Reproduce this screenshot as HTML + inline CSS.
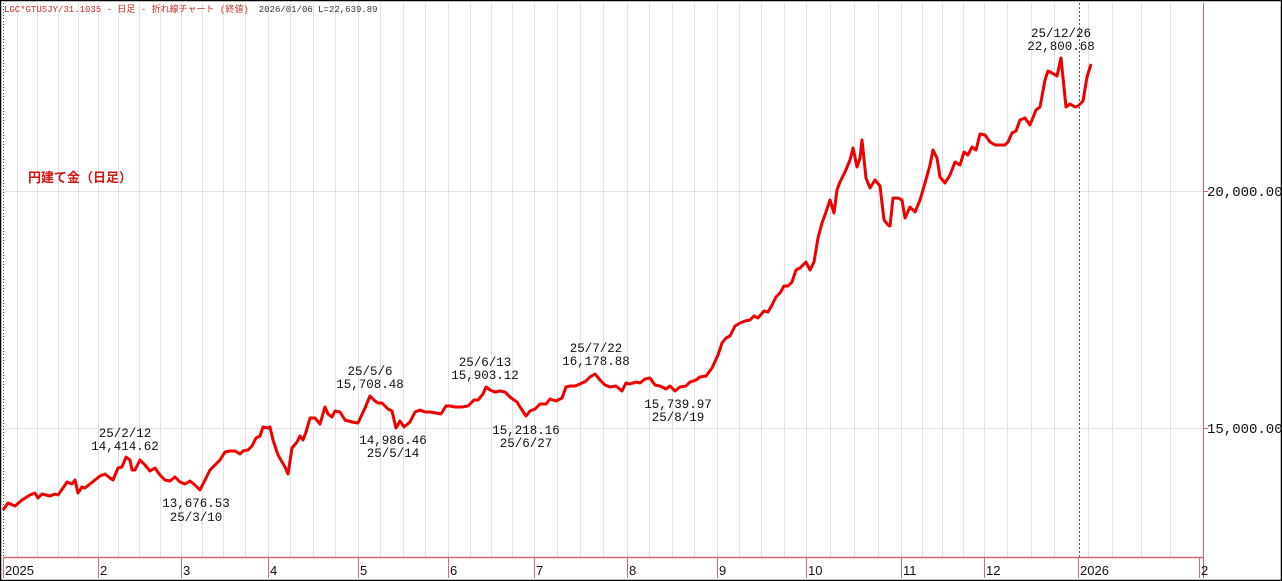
<!DOCTYPE html>
<html><head><meta charset="utf-8"><style>
html,body{margin:0;padding:0;background:#fff;}
svg{display:block;}
.t{font-family:"Liberation Mono","DejaVu Sans Mono",monospace;font-size:12.5px;fill:#111;}
.ax{font-family:"Liberation Sans",sans-serif;font-size:13px;fill:#111;}
</style></head><body>
<svg width="1282" height="581" viewBox="0 0 1282 581" xmlns="http://www.w3.org/2000/svg">
<rect x="0" y="0" width="1282" height="581" fill="#fff"/>
<g stroke="#e2e2e2" stroke-width="1">
<line x1="17.5" y1="3" x2="17.5" y2="557"/><line x1="37.5" y1="3" x2="37.5" y2="557"/><line x1="58.5" y1="3" x2="58.5" y2="557"/><line x1="78.5" y1="3" x2="78.5" y2="557"/><line x1="98.5" y1="3" x2="98.5" y2="557"/><line x1="118.5" y1="3" x2="118.5" y2="557"/><line x1="139.5" y1="3" x2="139.5" y2="557"/><line x1="160.5" y1="3" x2="160.5" y2="557"/><line x1="181.5" y1="3" x2="181.5" y2="557"/><line x1="202.5" y1="3" x2="202.5" y2="557"/><line x1="223.5" y1="3" x2="223.5" y2="557"/><line x1="245.5" y1="3" x2="245.5" y2="557"/><line x1="268.5" y1="3" x2="268.5" y2="557"/><line x1="290.5" y1="3" x2="290.5" y2="557"/><line x1="313.5" y1="3" x2="313.5" y2="557"/><line x1="335.5" y1="3" x2="335.5" y2="557"/><line x1="358.5" y1="3" x2="358.5" y2="557"/><line x1="380.5" y1="3" x2="380.5" y2="557"/><line x1="403.5" y1="3" x2="403.5" y2="557"/><line x1="425.5" y1="3" x2="425.5" y2="557"/><line x1="448.5" y1="3" x2="448.5" y2="557"/><line x1="470.5" y1="3" x2="470.5" y2="557"/><line x1="491.5" y1="3" x2="491.5" y2="557"/><line x1="512.5" y1="3" x2="512.5" y2="557"/><line x1="534.5" y1="3" x2="534.5" y2="557"/><line x1="557.5" y1="3" x2="557.5" y2="557"/><line x1="580.5" y1="3" x2="580.5" y2="557"/><line x1="603.5" y1="3" x2="603.5" y2="557"/><line x1="627.5" y1="3" x2="627.5" y2="557"/><line x1="649.5" y1="3" x2="649.5" y2="557"/><line x1="672.5" y1="3" x2="672.5" y2="557"/><line x1="694.5" y1="3" x2="694.5" y2="557"/><line x1="717.5" y1="3" x2="717.5" y2="557"/><line x1="739.5" y1="3" x2="739.5" y2="557"/><line x1="761.5" y1="3" x2="761.5" y2="557"/><line x1="784.5" y1="3" x2="784.5" y2="557"/><line x1="806.5" y1="3" x2="806.5" y2="557"/><line x1="830.5" y1="3" x2="830.5" y2="557"/><line x1="854.5" y1="3" x2="854.5" y2="557"/><line x1="878.5" y1="3" x2="878.5" y2="557"/><line x1="901.5" y1="3" x2="901.5" y2="557"/><line x1="922.5" y1="3" x2="922.5" y2="557"/><line x1="942.5" y1="3" x2="942.5" y2="557"/><line x1="963.5" y1="3" x2="963.5" y2="557"/><line x1="984.5" y1="3" x2="984.5" y2="557"/><line x1="1007.5" y1="3" x2="1007.5" y2="557"/><line x1="1031.5" y1="3" x2="1031.5" y2="557"/><line x1="1054.5" y1="3" x2="1054.5" y2="557"/><line x1="1088.5" y1="3" x2="1088.5" y2="557"/><line x1="1112.5" y1="3" x2="1112.5" y2="557"/><line x1="1141.5" y1="3" x2="1141.5" y2="557"/><line x1="1170.5" y1="3" x2="1170.5" y2="557"/>
<line x1="3" y1="191.5" x2="1203" y2="191.5"/><line x1="3" y1="428.5" x2="1203" y2="428.5"/>
</g>
<line x1="1079.5" y1="3" x2="1079.5" y2="557" stroke="#556" stroke-width="1" stroke-dasharray="2,2"/>
<line x1="3.5" y1="3" x2="3.5" y2="578" stroke="#444" stroke-width="1" stroke-dasharray="1,2"/>
<line x1="1203.5" y1="3" x2="1203.5" y2="578" stroke="#c8646e" stroke-width="1"/>
<line x1="3" y1="557.5" x2="1203" y2="557.5" stroke="#d46a72" stroke-width="1.5"/>
<g stroke="#d46a72" stroke-width="1">
<line x1="3.5" y1="557" x2="3.5" y2="578"/><line x1="98.5" y1="557" x2="98.5" y2="578"/><line x1="181.5" y1="557" x2="181.5" y2="578"/><line x1="268.5" y1="557" x2="268.5" y2="578"/><line x1="358.5" y1="557" x2="358.5" y2="578"/><line x1="448.5" y1="557" x2="448.5" y2="578"/><line x1="534.5" y1="557" x2="534.5" y2="578"/><line x1="627.5" y1="557" x2="627.5" y2="578"/><line x1="717.5" y1="557" x2="717.5" y2="578"/><line x1="806.5" y1="557" x2="806.5" y2="578"/><line x1="901.5" y1="557" x2="901.5" y2="578"/><line x1="984.5" y1="557" x2="984.5" y2="578"/><line x1="1078.5" y1="557" x2="1078.5" y2="578"/><line x1="1199.5" y1="557" x2="1199.5" y2="578"/>
<line x1="1203" y1="191.5" x2="1208" y2="191.5"/><line x1="1203" y1="428.5" x2="1208" y2="428.5"/>
</g>
<g class="ax">
<text x="5" y="575">2025</text><text x="100" y="575">2</text><text x="183" y="575">3</text><text x="270" y="575">4</text><text x="360" y="575">5</text><text x="450" y="575">6</text><text x="536" y="575">7</text><text x="629" y="575">8</text><text x="719" y="575">9</text><text x="808" y="575">10</text><text x="903" y="575">11</text><text x="986" y="575">12</text><text x="1080" y="575">2026</text><text x="1201" y="575">2</text>
</g>
<text class="t" x="1207" y="196" style="font-size:14px">20,000.00</text>
<text class="t" x="1207" y="433" style="font-size:14px">15,000.00</text>
<text x="4" y="12" style="font-family:'Liberation Mono','Noto Sans CJK JP',monospace;font-size:9px;fill:#c0302a">LGC*GTUSJY/31.1035 - 日足 - 折れ線チャート (終値)<tspan dx="10" style="fill:#333">2026/01/06 L=22,639.89</tspan></text>
<text x="28" y="182" style="font-family:'Liberation Sans','Noto Sans CJK JP',sans-serif;font-size:13px;font-weight:bold;fill:#d4140f">円建て金（日足）</text>
<polyline fill="none" stroke="#e00" stroke-width="3" stroke-linejoin="round" points="3,510 8,503 15,506 22,500 30,495 35,493 38,498 42,494 50,496 55,494 58,495 63,488 67,482 72,484 75,480 78,493 82,487 85,488 90,484 95,480 100,476 105,474 110,478 113,480 118,468 122,467 126,457 130,460 132,470 135,470 140,460 145,465 150,471 155,468 160,475 165,480 170,481 175,477 180,482 185,484 190,481 195,485 200,490 205,480 210,470 215,465 220,460 225,452 230,451 235,451 240,454 243,451 248,450 252,446 256,438 260,436 263,427 268,428 270,427 273,440 278,455 285,467 288,474 292,448 297,442 300,436 303,440 306,432 310,418 315,418 320,424 325,407 328,414 332,417 335,411 340,412 345,420 352,422 358,423 365,408 370,396 375,401 378,403 382,403 388,409 392,411 396,428 400,421 404,427 410,422 415,412 420,410 425,412 430,412 436,413 441,414 446,406 450,406 455,407 462,407 468,406 474,400 478,400 483,394 486,387 490,390 495,392 500,391 505,392 510,397 514,400 517,402 522,410 526,416 530,411 535,409 540,404 546,404 550,399 556,401 562,398 566,387 570,386 575,386 580,384 586,381 590,377 595,374 600,380 605,385 610,387 616,386 622,391 626,383 630,384 636,382 640,383 645,379 650,378 655,385 660,386 666,389 670,386 675,391 680,387 686,386 690,382 696,380 700,377 706,376 712,368 718,355 722,343 726,338 730,336 735,326 740,323 745,321 750,320 754,316 758,318 764,311 768,312 772,305 776,297 780,293 784,286 788,286 792,282 796,270 800,268 806,262 810,270 814,262 818,238 822,223 826,212 830,200 834,213 837,190 840,182 845,172 850,160 853,148 857,167 860,158 862,140 866,178 870,188 875,180 880,186 884,220 888,225 890,226 893,198 898,198 902,200 905,218 910,207 915,212 920,200 925,183 930,165 933,150 937,158 940,177 945,183 950,175 955,162 960,165 964,152 968,155 972,147 976,150 980,134 985,135 990,142 995,145 1000,145 1005,145 1008,142 1012,133 1016,131 1020,120 1025,118 1030,125 1036,110 1040,107 1045,80 1048,71 1052,73 1057,76 1061,58 1066,107 1070,104 1075,107 1078,106 1083,101 1087,77 1091,64"/>
<g class="t" text-anchor="middle">
<text x="125" y="437">25/2/12</text><text x="125" y="450">14,414.62</text>
<text x="196" y="507">13,676.53</text><text x="196" y="521">25/3/10</text>
<text x="370" y="375">25/5/6</text><text x="370" y="388">15,708.48</text>
<text x="393" y="444">14,986.46</text><text x="393" y="457">25/5/14</text>
<text x="485" y="366">25/6/13</text><text x="485" y="379">15,903.12</text>
<text x="526" y="434">15,218.16</text><text x="526" y="447">25/6/27</text>
<text x="596" y="352">25/7/22</text><text x="596" y="365">16,178.88</text>
<text x="678" y="408">15,739.97</text><text x="678" y="421">25/8/19</text>
<text x="1061" y="37">25/12/26</text><text x="1061" y="50">22,800.68</text>
</g>
<rect x="0.5" y="0.5" width="1281" height="580" fill="none" stroke="#000" stroke-width="1.5"/>
</svg>
</body></html>
